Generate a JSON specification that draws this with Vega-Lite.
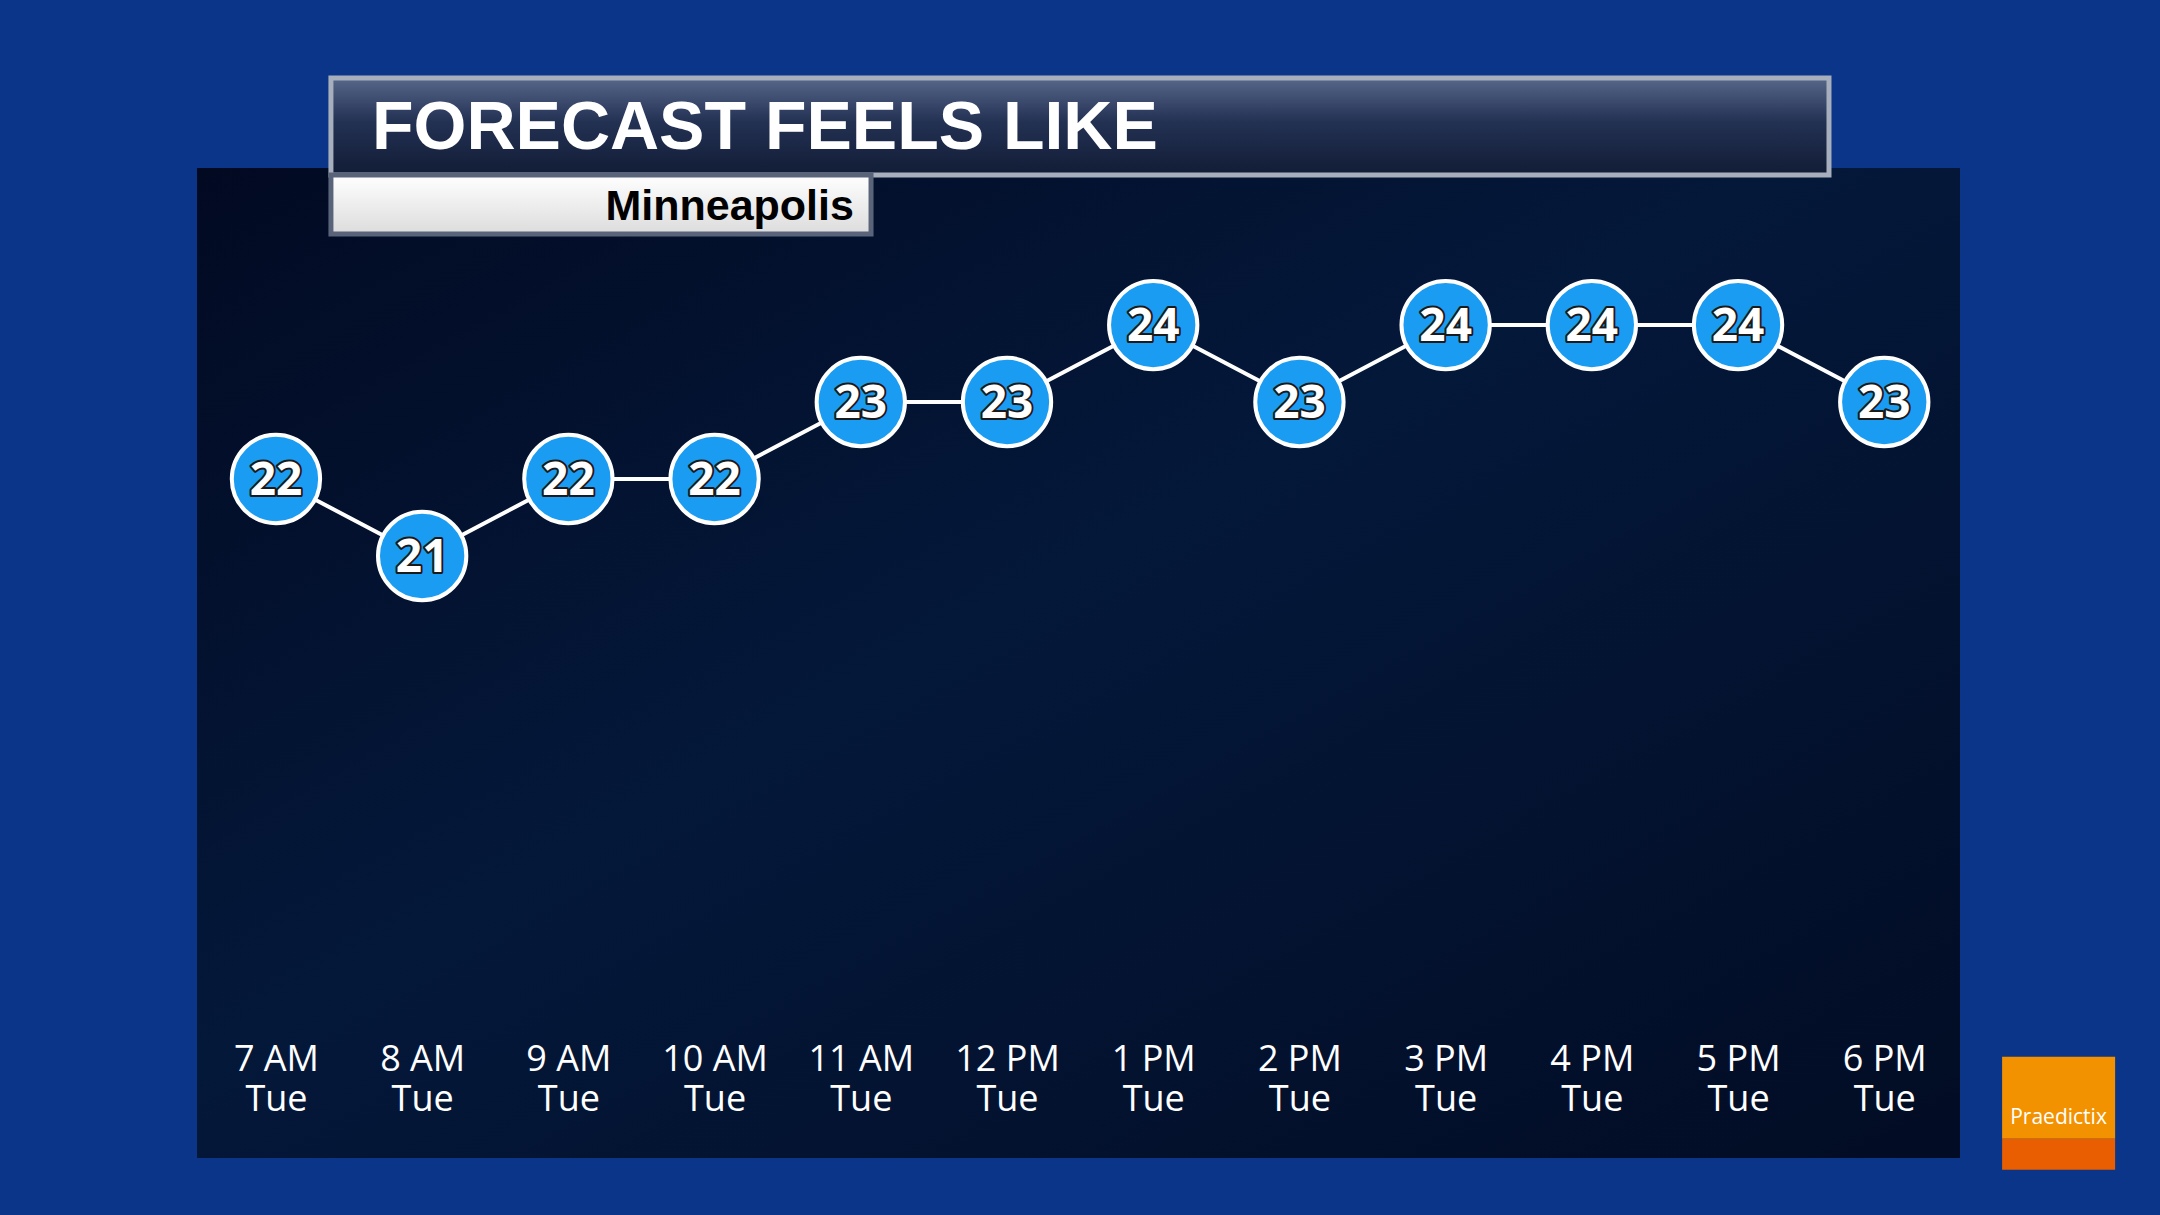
{
  "$schema": "https://vega.github.io/schema/vega-lite/v6.json",
  "width": 1763,
  "height": 990,
  "autosize": {"type": "none"},
  "padding": {"left": 197, "top": 168, "right": 200, "bottom": 57},
  "background": "#0b3588",
  "config": {
    "view": {
      "stroke": null,
      "fill": {"gradient": "linear", "x1": 0, "y1": 0, "x2": 1, "y2": 1,
        "stops": [{"offset": 0, "color": "#020a22"}, {"offset": 0.45, "color": "#04183a"}, {"offset": 1, "color": "#020c24"}]}
    }
  },
  "data": {
    "values": [
      {"hour": 7, "feels": 22}, {"hour": 8, "feels": 21}, {"hour": 9, "feels": 22},
      {"hour": 10, "feels": 22}, {"hour": 11, "feels": 23}, {"hour": 12, "feels": 23},
      {"hour": 13, "feels": 24}, {"hour": 14, "feels": 23}, {"hour": 15, "feels": 24},
      {"hour": 16, "feels": 24}, {"hour": 17, "feels": 24}, {"hour": 18, "feels": 23}
    ]
  },
  "encoding": {
    "x": {"field": "hour", "type": "quantitative",
      "scale": {"domain": [6.46, 18.518], "nice": false, "zero": false},
      "axis": {
        "title": null, "grid": false, "domain": false, "ticks": false,
        "values": [7, 8, 9, 10, 11, 12, 13, 14, 15, 16, 17, 18],
        "labelExpr": "[(datum.value % 12 == 0 ? 12 : datum.value % 12) + (datum.value < 12 ? ' AM' : ' PM'), 'Tue']",
        "offset": -116, "labelPadding": 0, "labelBaseline": "top",
        "labelFont": "Open Sans", "labelFontSize": 36, "labelColor": "#ffffff",
        "labelLineHeight": 40, "labelFlush": false, "labelOverlap": false
      }
    },
    "y": {"field": "feels", "type": "quantitative",
      "scale": {"domain": [13.18, 26.04], "nice": false, "zero": false},
      "axis": null}
  },
  "layer": [
    {
      "data": {"values": [{"x": 7.376, "x2": 17.622, "y": 27.208, "y2": 25.948}]},
      "mark": {"type": "rect", "stroke": "#a7afbd", "strokeWidth": 5,
        "fill": {"gradient": "linear", "x1": 0, "y1": 0, "x2": 0, "y2": 1,
          "stops": [{"offset": 0, "color": "#56678a"}, {"offset": 0.45, "color": "#233153"}, {"offset": 1, "color": "#111c35"}]}},
      "encoding": {
        "x": {"field": "x", "type": "quantitative"}, "x2": {"field": "x2"},
        "y": {"field": "y", "type": "quantitative"}, "y2": {"field": "y2"}
      }
    },
    {
      "data": {"values": [{"x": 7.376, "x2": 11.07, "y": 25.948, "y2": 25.182}]},
      "mark": {"type": "rect", "stroke": "#59647a", "strokeWidth": 5,
        "fill": {"gradient": "linear", "x1": 0, "y1": 0, "x2": 0, "y2": 1,
          "stops": [{"offset": 0, "color": "#ffffff"}, {"offset": 1, "color": "#dcdcdc"}]}},
      "encoding": {
        "x": {"field": "x", "type": "quantitative"}, "x2": {"field": "x2"},
        "y": {"field": "y", "type": "quantitative"}, "y2": {"field": "y2"}
      }
    },
    {
      "data": {"values": [{"x": 7.657, "y": 26.286, "t": "FORECAST FEELS LIKE"}]},
      "mark": {"type": "text", "align": "left", "baseline": "alphabetic", "font": "Liberation Sans",
        "fontWeight": "bold", "fontSize": 68, "fill": "#ffffff"},
      "encoding": {
        "x": {"field": "x", "type": "quantitative"},
        "y": {"field": "y", "type": "quantitative"},
        "text": {"field": "t"}
      }
    },
    {
      "data": {"values": [{"x": 10.953, "y": 25.364, "t": "Minneapolis"}]},
      "mark": {"type": "text", "align": "right", "baseline": "alphabetic", "font": "Liberation Sans Narrow, Liberation Sans",
        "fontWeight": "bold", "fontSize": 43, "fill": "#000000"},
      "encoding": {
        "x": {"field": "x", "type": "quantitative"},
        "y": {"field": "y", "type": "quantitative"},
        "text": {"field": "t"}
      }
    },
    {
      "data": {"values": [{"x": 18.806, "x2": 19.579, "y": 14.494, "y2": 13.429}]},
      "mark": {"type": "rect", "fill": "#f39200"},
      "encoding": {
        "x": {"field": "x", "type": "quantitative"}, "x2": {"field": "x2"},
        "y": {"field": "y", "type": "quantitative"}, "y2": {"field": "y2"}
      }
    },
    {
      "data": {"values": [{"x": 18.806, "x2": 19.579, "y": 13.429, "y2": 13.026}]},
      "mark": {"type": "rect", "fill": "#e85e00"},
      "encoding": {
        "x": {"field": "x", "type": "quantitative"}, "x2": {"field": "x2"},
        "y": {"field": "y", "type": "quantitative"}, "y2": {"field": "y2"}
      }
    },
    {
      "data": {"values": [{"x": 19.192, "y": 13.62, "t": "Praedictix"}]},
      "mark": {"type": "text", "align": "center", "baseline": "alphabetic", "font": "Open Sans",
        "fontSize": 21, "fill": "#ffffff"},
      "encoding": {
        "x": {"field": "x", "type": "quantitative"},
        "y": {"field": "y", "type": "quantitative"},
        "text": {"field": "t"}
      }
    },
    {
      "mark": {"type": "line", "color": "#ffffff", "strokeWidth": 4}
    },
    {
      "mark": {"type": "circle", "size": 7800, "fill": "#1a9cf2", "opacity": 1,
        "stroke": "#ffffff", "strokeWidth": 4}
    },
    {
      "mark": {"type": "text", "font": "Open Sans", "fontWeight": "bold", "fontSize": 46,
        "baseline": "middle", "dy": 2, "fill": "#ffffff", "stroke": "#1a1a1a", "strokeWidth": 4, "strokeJoin": "round"},
      "encoding": {"text": {"field": "feels", "type": "quantitative"}}
    },
    {
      "mark": {"type": "text", "font": "Open Sans", "fontWeight": "bold", "fontSize": 46,
        "baseline": "middle", "dy": 2, "fill": "#ffffff"},
      "encoding": {"text": {"field": "feels", "type": "quantitative"}}
    }
  ]
}
